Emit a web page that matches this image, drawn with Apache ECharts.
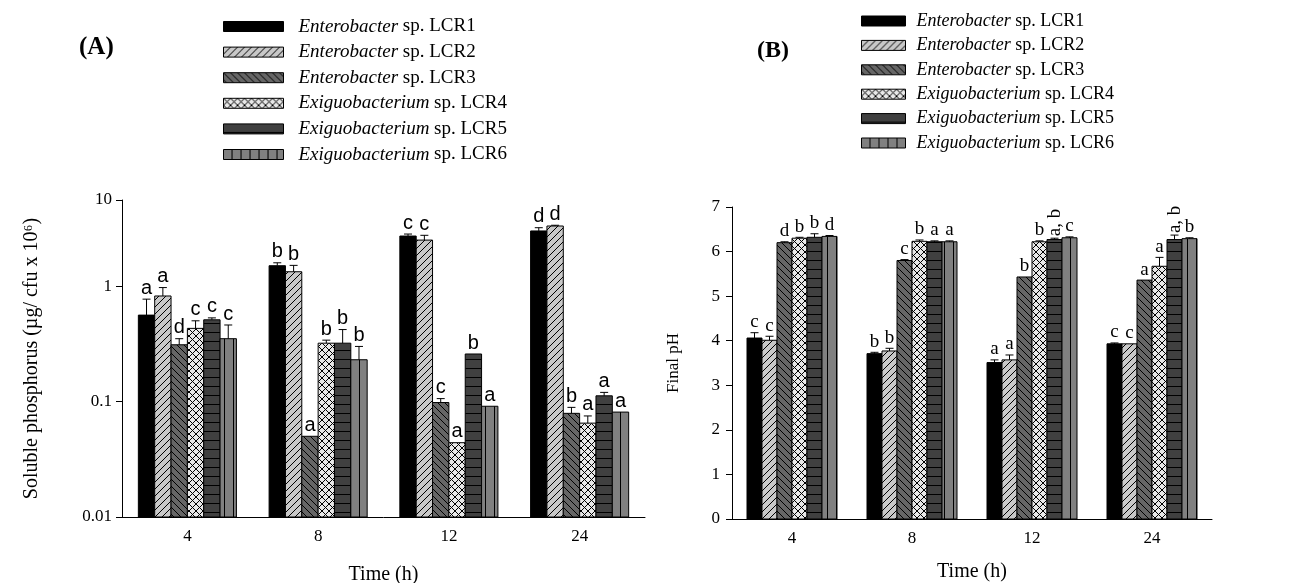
<!DOCTYPE html>
<html>
<head>
<meta charset="utf-8">
<script src="https://cdn.jsdelivr.net/npm/echarts@6/dist/echarts.min.js"></script>
<style>
  html, body { margin: 0; background: #fff; }
  #chart { width: 1312px; height: 583px; }
</style>
</head>
<body>
<div id="chart"></div>
<script>
// categories
const times = ["4", "8", "12", "24"];
const genus = ["Enterobacter", "Enterobacter", "Enterobacter", "Exiguobacterium", "Exiguobacterium", "Exiguobacterium"];
const strains = ["LCR1", "LCR2", "LCR3", "LCR4", "LCR5", "LCR6"];

// (A) soluble phosphorus, one row per strain, one column per time
const phosMean = [
  [0.56, 1.50, 2.71, 3.00],
  [0.82, 1.33, 2.50, 3.31],
  [0.31, 0.050, 0.098, 0.079],
  [0.43, 0.32, 0.044, 0.065],
  [0.51, 0.32, 0.258, 0.112],
  [0.35, 0.23, 0.091, 0.081]
];
const phosErr = [
  [0.21, 0.09, 0.11, 0.20],
  [0.15, 0.18, 0.25, 0.05],
  [0.04, 0, 0.008, 0.01],
  [0.07, 0.02, 0, 0.01],
  [0.02, 0.10, 0, 0.008],
  [0.11, 0.07, 0, 0]
];
const phosLetters = [
  ["a", "b", "c", "d"],
  ["a", "b", "c", "d"],
  ["d", "a", "c", "b"],
  ["c", "b", "a", "a"],
  ["c", "b", "b", "a"],
  ["c", "b", "a", "a"]
];

// (B) final pH
const phMean = [
  [4.06, 3.71, 3.51, 3.93],
  [4.01, 3.77, 3.57, 3.93],
  [6.20, 5.80, 5.43, 5.36],
  [6.30, 6.23, 6.22, 5.67],
  [6.32, 6.22, 6.27, 6.27],
  [6.34, 6.22, 6.31, 6.29]
];
const phErr = [
  [0.12, 0.03, 0.06, 0.02],
  [0.09, 0.06, 0.11, 0],
  [0.02, 0.02, 0, 0],
  [0.02, 0.03, 0.02, 0.20],
  [0.08, 0.02, 0.03, 0.10],
  [0.02, 0.02, 0.02, 0.02]
];
const phLetters = [
  ["c", "b", "a", "c"],
  ["c", "b", "a", "c"],
  ["d", "c", "b", "a"],
  ["b", "b", "b", "a"],
  ["b", "a", "a, b", "a, b"],
  ["d", "a", "c", "b"]
];

const serif = '"Liberation Serif", "Times New Roman", serif';
const sans = '"Liberation Sans", Arial, sans-serif';

const makePattern = (bg, size, draw) => {
  const c = document.createElement("canvas");
  c.width = size;
  c.height = size;
  const ctx = c.getContext("2d");
  ctx.fillStyle = bg;
  ctx.fillRect(0, 0, size, size);
  ctx.strokeStyle = "#000";
  ctx.lineWidth = 1;
  ctx.beginPath();
  draw(ctx, size);
  ctx.stroke();
  return { image: c, repeat: "repeat" };
};
const slash = (ctx, s) => {
  ctx.moveTo(-1, s + 1); ctx.lineTo(s + 1, -1);
  ctx.moveTo(-1, 1); ctx.lineTo(1, -1);
  ctx.moveTo(s - 1, s + 1); ctx.lineTo(s + 1, s - 1);
};
const backslash = (ctx, s) => {
  ctx.moveTo(-1, -1); ctx.lineTo(s + 1, s + 1);
  ctx.moveTo(s - 1, -1); ctx.lineTo(s + 1, 1);
  ctx.moveTo(-1, s - 1); ctx.lineTo(1, s + 1);
};

const fills = [
  "#000",
  makePattern("#c8c8c8", 7, slash),
  makePattern("#666666", 7, backslash),
  makePattern("#e8e8e8", 7, (ctx, s) => { slash(ctx, s); backslash(ctx, s); }),
  makePattern("#404040", 9, (ctx, s) => { ctx.moveTo(0, s - 0.5); ctx.lineTo(s, s - 0.5); }),
  makePattern("#808080", 9, (ctx, s) => { ctx.moveTo(s - 0.5, 0); ctx.lineTo(s - 0.5, s); })
];

const seriesNames = strains.map((s, i) => `${genus[i]} sp. ${s}`);

// bars, error caps and letters go through the axes with api.coord
const makeRenderer = (base, letters, letterFont, s) => (params, api) => {
  const cat = api.value(0);
  const val = api.value(1);
  const err = api.value(2);
  const p0 = api.coord([cat, base]);
  const band = api.coord([1, base])[0] - api.coord([0, base])[0];
  const groupW = band * 0.75;
  const bw = groupW / 6;
  const x = p0[0] - groupW / 2 + s * bw;
  const cx = x + bw / 2;
  const top = api.coord([cat, val])[1];
  const errTop = api.coord([cat, val + err])[1];
  const children = [
    {
      type: "rect",
      shape: { x: x, y: top, width: bw, height: p0[1] - top },
      style: { fill: fills[s], stroke: "#000", lineWidth: 1 }
    }
  ];
  if (err > 0) {
    children.push({
      type: "line",
      shape: { x1: cx, y1: top, x2: cx, y2: errTop },
      style: { stroke: "#000", lineWidth: 1 }
    });
    children.push({
      type: "line",
      shape: { x1: cx - 4, y1: errTop, x2: cx + 4, y2: errTop },
      style: { stroke: "#000", lineWidth: 1 }
    });
  }
  const letter = letters[s][params.dataIndex];
  if (letter.indexOf(",") >= 0) {
    children.push({
      type: "text",
      x: cx + 1,
      y: errTop - 2,
      rotation: Math.PI / 2,
      style: { text: letter, font: letterFont, fill: "#000", align: "left", verticalAlign: "middle" }
    });
  } else {
    children.push({
      type: "text",
      x: cx,
      y: errTop - 1,
      style: { text: letter, font: letterFont, fill: "#000", align: "center", verticalAlign: "bottom" }
    });
  }
  return { type: "group", children: children };
};

const buildSeries = (gridIdx, means, errs, letters, base, letterFont) =>
  strains.map((st, s) => ({
    type: "custom",
    name: seriesNames[s],
    xAxisIndex: gridIdx,
    yAxisIndex: gridIdx,
    itemStyle: { color: fills[s], borderColor: "#000", borderWidth: 1 },
    renderItem: makeRenderer(base, letters, letterFont, s),
    encode: { x: 0, y: 1 },
    data: times.map((t, i) => [i, means[s][i], errs[s][i]])
  }));

const legendFor = (left, top, itemWidth, fontSize, gap, pad) => ({
  orient: "vertical",
  left: left,
  top: top,
  icon: "rect",
  itemWidth: itemWidth,
  itemHeight: 10,
  itemGap: gap,
  selectedMode: false,
  data: seriesNames.map((n, s) => ({
    name: n,
    itemStyle: { color: fills[s], borderColor: "#000", borderWidth: 1 }
  })),
  formatter: name => {
    const parts = name.split(" sp. ");
    return `{s| }{i|${parts[0]}} sp. ${parts[1]}`;
  },
  textStyle: {
    fontFamily: serif,
    fontSize: fontSize,
    color: "#000",
    lineHeight: fontSize + 2,
    rich: {
      s: { width: pad, fontSize: fontSize, lineHeight: fontSize + 2 },
      i: { fontFamily: serif, fontSize: fontSize, fontStyle: "italic", color: "#000", lineHeight: fontSize + 2 }
    }
  }
});

const axisLabelStyle = { fontFamily: serif, fontSize: 17, color: "#000" };
const axisNameStyle = { fontFamily: serif, fontSize: 20, color: "#000" };
const axisLineStyle = { lineStyle: { color: "#000", width: 1 } };

const chart = echarts.init(document.getElementById("chart"));
chart.setOption({
  animation: false,
  backgroundColor: "#fff",
  title: [
    { text: "(A)", left: 74, top: 30, textStyle: { fontFamily: serif, fontSize: 25, fontWeight: "bold", color: "#000" } },
    { text: "(B)", left: 752, top: 34, textStyle: { fontFamily: serif, fontSize: 24, fontWeight: "bold", color: "#000" } }
  ],
  legend: [legendFor(218, 11, 60, 19, 4.6, 10), legendFor(856, 6, 44, 18, 4.4, 6)],
  grid: [
    { left: 122, top: 200, width: 523, height: 317, outerBoundsMode: "none", containLabel: false },
    { left: 732, top: 207, width: 480, height: 312, outerBoundsMode: "none", containLabel: false }
  ],
  xAxis: [0, 1].map(g => ({
    type: "category",
    gridIndex: g,
    data: times,
    name: "Time (h)",
    nameLocation: "middle",
    nameGap: g === 0 ? 48 : 43,
    nameTextStyle: axisNameStyle,
    axisLine: axisLineStyle,
    axisTick: { alignWithLabel: true, length: 5, lineStyle: { color: "#000" } },
    axisLabel: Object.assign({ margin: 11 }, axisLabelStyle),
    splitLine: { show: false }
  })),
  yAxis: [
    {
      type: "log",
      gridIndex: 0,
      logBase: 10,
      min: 0.01,
      max: 5.56,
      name: "Soluble phosphorus (\u00b5g/ cfu x 10\u2076)",
      nameLocation: "middle",
      nameGap: 80,
      nameTextStyle: axisNameStyle,
      axisLine: { show: true, lineStyle: { color: "#000", width: 1 } },
      axisTick: { show: true, length: 6, lineStyle: { color: "#000" } },
      axisLabel: Object.assign({
        margin: 10,
        showMaxLabel: true,
        formatter: v => (v > 5 ? "10" : String(+v.toPrecision(2)))
      }, axisLabelStyle),
      splitLine: { show: false }
    },
    {
      type: "value",
      gridIndex: 1,
      min: 0,
      max: 7,
      interval: 1,
      name: "Final pH",
      nameLocation: "middle",
      nameGap: 50,
      nameTextStyle: Object.assign({}, axisNameStyle, { fontSize: 17 }),
      axisLine: { show: true, lineStyle: { color: "#000", width: 1 } },
      axisTick: { show: true, length: 6, lineStyle: { color: "#000" } },
      axisLabel: Object.assign({ margin: 12 }, axisLabelStyle),
      splitLine: { show: false }
    }
  ],
  series: buildSeries(0, phosMean, phosErr, phosLetters, 0.01, `20px ${sans}`)
    .concat(buildSeries(1, phMean, phErr, phLetters, 0, `19px ${serif}`))
});
</script>
</body>
</html>
